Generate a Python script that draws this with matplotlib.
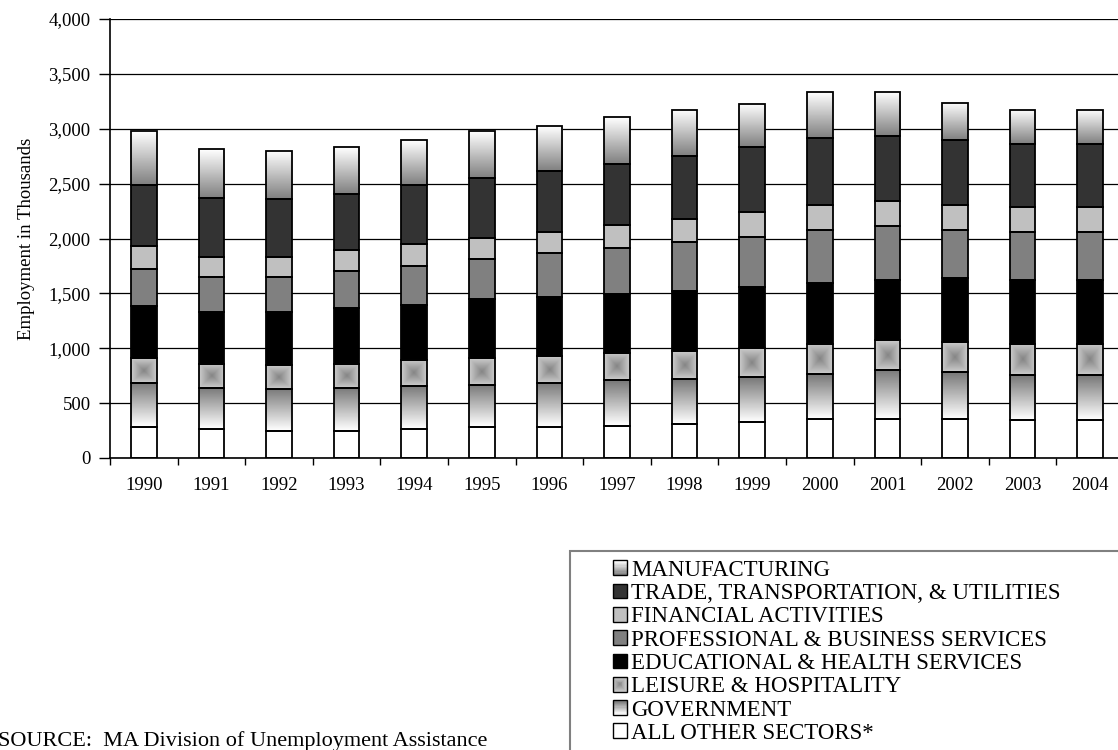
import numpy as np
import matplotlib
matplotlib.use("Agg")
import matplotlib.pyplot as plt
from matplotlib.patches import Rectangle, Patch
from matplotlib.legend_handler import HandlerBase
from matplotlib.ticker import FuncFormatter

plt.rcParams['font.family'] = ['Liberation Serif', 'DejaVu Serif']

years = ['1990', '1991', '1992', '1993', '1994', '1995', '1996', '1997',
         '1998', '1999', '2000', '2001', '2002', '2003', '2004']

# employment by sector, thousands (bottom of the stack first)
other    = [282, 261, 243, 243, 261, 282, 282, 295, 313, 328, 358, 358, 358, 343, 343]
gov      = [404, 380, 386, 398, 395, 386, 404, 413, 410, 410, 410, 447, 426, 410, 410]
leisure  = [225, 219, 215, 219, 237, 243, 240, 249, 252, 264, 274, 270, 273, 289, 289]
educ     = [471, 470, 486, 504, 504, 535, 541, 540, 550, 556, 550, 550, 583, 583, 583]
prof     = [337, 322, 322, 340, 355, 370, 398, 419, 440, 456, 485, 486, 437, 434, 434]
fin      = [210, 179, 179, 191, 195, 192, 194, 210, 213, 224, 225, 231, 225, 228, 228]
trade    = [555, 541, 526, 514, 537, 543, 559, 556, 571, 593, 614, 589, 592, 577, 577]
manuf    = [492, 440, 440, 425, 410, 425, 410, 425, 422, 392, 419, 404, 344, 310, 310]

sectors = ['ALL OTHER SECTORS*', 'GOVERNMENT', 'LEISURE & HOSPITALITY',
           'EDUCATIONAL & HEALTH SERVICES', 'PROFESSIONAL & BUSINESS SERVICES',
           'FINANCIAL ACTIVITIES', 'TRADE, TRANSPORTATION, & UTILITIES',
           'MANUFACTURING']
series = [other, gov, leisure, educ, prof, fin, trade, manuf]

# fill style per sector: plain colour or a gradient kind
styles = [('flat', '#ffffff'), ('up', None), ('center', None), ('flat', '#000000'),
          ('flat', '#808080'), ('flat', '#c0c0c0'), ('flat', '#333333'), ('down', None)]


def gradient(kind, n=64):
    t = np.linspace(0, 1, n)
    if kind == 'down':      # white on top, grey at the bottom
        return (1.0 - 0.5 * t)[:, None]
    if kind == 'up':        # grey on top, white at the bottom
        return (0.47 + 0.53 * t)[:, None]
    u = np.abs(np.linspace(-1, 1, n))
    r = np.maximum(u[:, None], u[None, :])
    return 0.52 + 0.28 * r


class GradHandler(HandlerBase):
    def __init__(self, kind, color):
        super().__init__()
        self.kind = kind
        self.color = color

    def create_artists(self, legend, orig_handle, xdescent, ydescent,
                       width, height, fontsize, trans):
        x0, y0 = -xdescent, -ydescent
        arts = []
        if self.kind == 'flat':
            arts.append(Rectangle((x0, y0), width, height, facecolor=self.color,
                                  edgecolor='none', transform=trans))
        elif self.kind in ('down', 'up'):
            g = gradient(self.kind, 12)[:, 0]
            n = len(g)
            for i, v in enumerate(g):
                yy = y0 + height - (i + 1) * height / n
                arts.append(Rectangle((x0, yy), width, height / n,
                                      facecolor=str(v), edgecolor='none',
                                      transform=trans))
        else:
            n = 8
            for i in range(n):
                f = 1 - i / n
                v = 0.52 + 0.28 * f
                arts.append(Rectangle((x0 + width * (1 - f) / 2, y0 + height * (1 - f) / 2),
                                      width * f, height * f, facecolor=str(v),
                                      edgecolor='none', transform=trans))
        arts.append(Rectangle((x0, y0), width, height, fill=False,
                              edgecolor='black', linewidth=1.0, transform=trans))
        return arts


fig = plt.figure(figsize=(11.18, 7.5), dpi=100)
ax = fig.add_axes([110 / 1118, 1 - 458 / 750, 1014 / 1118, 439 / 750])

x = np.arange(len(years))
w = 0.38
bottom = np.zeros(len(years))
for vals, (kind, col) in zip(series, styles):
    vals = np.array(vals, dtype=float)
    bars = ax.bar(x, vals, w, bottom=bottom, color=col if kind == 'flat' else 'white',
                  edgecolor='none', zorder=2)
    if kind != 'flat':
        img = gradient(kind)
        for b in bars:
            ax.imshow(img, cmap='gray', vmin=0, vmax=1, aspect='auto',
                      extent=(b.get_x(), b.get_x() + b.get_width(),
                              b.get_y(), b.get_y() + b.get_height()),
                      interpolation='bilinear', zorder=2.5)
    ax.bar(x, vals, w, bottom=bottom, fill=False, edgecolor='black',
           linewidth=1.3, zorder=3)
    bottom += vals

ax.set_xlim(-0.5, len(years) - 0.5)
ax.set_ylim(0, 4000)
ax.set_yticks(np.arange(0, 4001, 500))
ax.yaxis.set_major_formatter(FuncFormatter(lambda v, p: f'{int(v):,}'))
ax.yaxis.grid(True, color='black', linewidth=0.9, zorder=0)
ax.set_axisbelow(True)

ax.set_xticks(x)
ax.set_xticklabels(years)
ax.set_xticks(np.arange(-0.5, len(years)), minor=True)
ax.tick_params(axis='x', which='major', length=0, pad=14, labelsize=13.5)
ax.tick_params(axis='x', which='minor', length=5, width=1, direction='out')
ax.tick_params(axis='y', length=8, width=1, direction='out', pad=6, labelsize=13.5)

for s in ('top', 'right'):
    ax.spines[s].set_visible(False)
ax.spines['left'].set_linewidth(1.2)
ax.spines['bottom'].set_linewidth(1.2)

ax.set_ylabel('Employment in Thousands', fontsize=13.5, labelpad=10)

# legend, top entry first
handles = []
hmap = {}
for name, (kind, col) in zip(sectors[::-1], styles[::-1]):
    h = Patch(label=name)
    handles.append(h)
    hmap[h] = GradHandler(kind, col)

fig.patches.append(Rectangle((570 / 1118, -0.05), 0.6, 1 - 551 / 750 + 0.05,
                             transform=fig.transFigure, fill=False,
                             edgecolor='#808080', linewidth=1.5))
fig.legend(handles=handles, handler_map=hmap, loc='upper left',
           bbox_to_anchor=(606 / 1118, 1 - 553 / 750), frameon=False,
           fontsize=16.5, handlelength=0.61, handleheight=0.61,
           handletextpad=0.2, labelspacing=0.1, borderpad=0.3,
           borderaxespad=0)

fig.text(-0.002, 1 - 731 / 750, 'SOURCE:  MA Division of Unemployment Assistance',
         fontsize=16, va='top', ha='left')

fig.savefig('out.png', dpi=100)
